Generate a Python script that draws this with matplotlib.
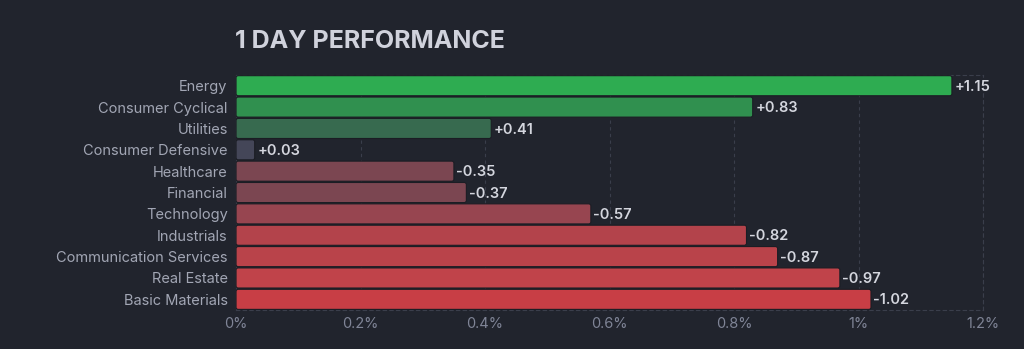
import matplotlib
matplotlib.use("Agg")
import matplotlib.pyplot as plt
from matplotlib.patches import FancyBboxPatch
from matplotlib.ticker import FuncFormatter

# ── Data ───────────────────────────────────────────────────────────────────────
sectors = ["Energy", "Consumer Cyclical", "Utilities", "Consumer Defensive",
           "Healthcare", "Financial", "Technology", "Industrials",
           "Communication Services", "Real Estate", "Basic Materials"]
changes = [1.15, 0.83, 0.41, 0.03, -0.35, -0.37, -0.57, -0.82, -0.87, -0.97, -1.02]
bar_colors = ["#2eac51", "#30904f", "#376a4f", "#444658", "#7b4651", "#7b4651",
              "#974550", "#b3434b", "#b9434a", "#c0434a", "#c83e45"]
xticks = [0, 0.2, 0.4, 0.6, 0.8, 1.0, 1.2]

BG = "#21242d"
GRID = "#3a3e4b"

plt.rcParams["font.family"] = ["Inter", "DejaVu Sans"]

fig = plt.figure(figsize=(10.24, 3.49), dpi=100, facecolor=BG)
ax = fig.add_axes([0.2305, 0.1117, 0.7295, 0.6733], facecolor=BG)

ypos = list(range(len(sectors)))
bars = ax.barh(ypos, [abs(v) for v in changes], height=0.94, color=bar_colors)

# swap plain bars for slightly rounded ones
for b, col in zip(bars, bar_colors):
    b.set_visible(False)
    fb = FancyBboxPatch((b.get_x(), b.get_y()), b.get_width(), b.get_height(),
                        boxstyle="round,pad=0,rounding_size=0.0035",
                        mutation_aspect=28, facecolor=col,
                        edgecolor="#1b1d24", linewidth=0.8, zorder=3)
    ax.add_patch(fb)

for y, v in zip(ypos, changes):
    ax.text(abs(v) + 0.004, y + 0.05, f"{v:+.2f}", va="center", ha="left",
            color="#d4d6de", fontsize=10.5, fontweight="semibold", zorder=4)

ax.set_xlim(0, 1.2)
ax.set_ylim(len(sectors) - 0.5, -0.5)
ax.set_xticks(xticks)
ax.xaxis.set_major_formatter(FuncFormatter(lambda x, _: f"{x:g}%"))
ax.set_yticks(ypos)
ax.set_yticklabels(sectors)
ax.tick_params(axis="y", length=0, pad=6, labelsize=10.5, labelcolor="#a2a6b4")
ax.tick_params(axis="x", length=0, pad=5, labelsize=10.5, labelcolor="#7f8496")

ax.grid(axis="x", color=GRID, ls=(0, (3, 3)), lw=0.8, zorder=0)
for s in ax.spines.values():
    s.set_color(GRID)
    s.set_linestyle((0, (3, 3)))
    s.set_linewidth(0.8)

fig.text(0.2295, 0.882, "1 DAY PERFORMANCE", color="#d0d2dc", fontsize=18,
         fontweight="bold", ha="left", va="center")

plt.savefig("out.png", dpi=100, facecolor=BG)
